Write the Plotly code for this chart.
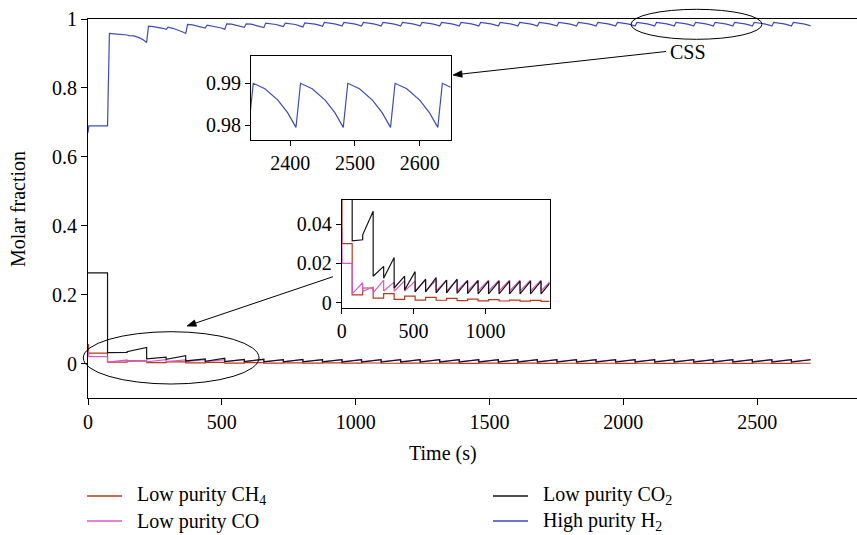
import math
import plotly.graph_objects as go

# ---------------- data ----------------
# switching times of the PSA steps (s)
step_t = [73, 146, 219, 292, 365, 438, 511, 584, 657, 730, 803, 876, 949, 1022,
          1095, 1168, 1241, 1314, 1387, 1460, 1533, 1606, 1679, 1752, 1825, 1898,
          1971, 2044, 2117, 2190, 2263, 2336, 2409, 2482, 2555, 2628]
t_end = 2700

# High purity H2 : start of run, then per step values
h2_init_t = [0, 3, 73]
h2_init_v = [0.67, 0.69, 0.69]
h2_peak = [0.958, 0.952, 0.979, 0.976, 0.984, 0.982, 0.986, 0.986, 0.988, 0.988, 0.989] + [0.990] * 25
h2_v25 = [0.957, 0.951, 0.978, 0.973, 0.983, 0.980, 0.985, 0.985, 0.987, 0.987, 0.988] + [0.9887] * 25
h2_v45 = [0.956, 0.946, 0.976, 0.968, 0.980, 0.977, 0.982, 0.981, 0.984, 0.984, 0.985] + [0.9860] * 25
h2_v60 = [0.955, 0.940, 0.973, 0.963, 0.977, 0.974, 0.979, 0.978, 0.981, 0.980, 0.982] + [0.9830] * 25
h2_end = [0.9535, 0.932, 0.970, 0.958, 0.974, 0.970, 0.976, 0.975, 0.978, 0.977, 0.979] + [0.9795] * 25

# Low purity CO2 : start of run, then per-step trough (after drop) and end values
co2_init_t = [0, 73]
co2_init_v = [0.263, 0.263]
co2_trough = [0.0315, 0.0345, 0.0135, 0.0125, 0.0075, 0.0065, 0.0055, 0.0055, 0.0050, 0.0050,
              0.0048, 0.0047] + [0.0045] * 24
co2_end = [0.0320, 0.0465, 0.0185, 0.0230, 0.0135, 0.0158, 0.0120, 0.0128, 0.0115, 0.0120,
           0.0112, 0.0113] + [0.0110] * 24

# Low purity CO
co_init_t = [0, 3, 73]
co_init_v = [0.038, 0.020, 0.020]
co_trough = [0.0045, 0.0058, 0.0050, 0.0060, 0.0058, 0.0060] + [0.0060] * 30
co_end = [0.0102, 0.0080, 0.0115, 0.0105, 0.0112, 0.0110] + [0.0115] * 30

# Low purity CH4 : step levels
ch4_init_t = [0, 2]
ch4_init_v = [0.055, 0.030]
ch4_level = [0.0040, 0.0075, 0.0024, 0.0047, 0.0017, 0.0034, 0.0014, 0.0027, 0.0013, 0.0022,
             0.0011, 0.0019, 0.0010, 0.0016, 0.0009, 0.0014, 0.0008, 0.0012, 0.0007, 0.0011,
             0.0006, 0.0010, 0.0006, 0.0009, 0.0005, 0.0009, 0.0005, 0.0008, 0.0005, 0.0008,
             0.0005, 0.0008, 0.0005, 0.0008, 0.0005, 0.0008]

series_names = ["Low purity CH<sub>4</sub>", "Low purity CO",
                "Low purity CO<sub>2</sub>", "High purity H<sub>2</sub>"]
x_ticks = [0, 500, 1000, 1500, 2000, 2500]
y_ticks = [0, 0.2, 0.4, 0.6, 0.8, 1]
y_tick_text = ["0", "0.2", "0.4", "0.6", "0.8", "1"]
in1_xticks = [2400, 2500, 2600]
in1_yticks = [0.98, 0.99]
in2_xticks = [0, 500, 1000]
in2_yticks = [0, 0.02, 0.04]
in2_ytext = ["0", "0.02", "0.04"]

# ---------------- build polylines ----------------
def step_end(k):
    return step_t[k + 1] if k + 1 < len(step_t) else t_end

h2_x, h2_y = list(h2_init_t), list(h2_init_v)
for k, T in enumerate(step_t):
    h2_x += [T + 7, T + 25, T + 45, T + 60, step_end(k)]
    h2_y += [h2_peak[k], h2_v25[k], h2_v45[k], h2_v60[k], h2_end[k]]

def saw(init_t, init_v, trough, end):
    xs, ys = list(init_t), list(init_v)
    for k, T in enumerate(step_t):
        xs += [T, step_end(k)]
        ys += [trough[k], end[k]]
    return xs, ys

co2_x, co2_y = saw(co2_init_t, co2_init_v, co2_trough, co2_end)
co_x, co_y = saw(co_init_t, co_init_v, co_trough, co_end)
ch4_x = list(ch4_init_t) + step_t + [t_end]
ch4_y = list(ch4_init_v) + ch4_level + [ch4_level[-1]]

# ---------------- style ----------------
C_CH4 = "#B5391E"
C_CO = "#D85AC8"
C_CO2 = "#141414"
C_H2 = "#3D4DB5"
FONT = "Liberation Serif"
W, H = 857, 535
ML, MR, MT, MB = 88, 0, 19, 137
PW, PH = W - ML - MR, H - MT - MB


def px_x(p):
    return (p - ML) / PW


def px_y(p):
    return (H - MB - p) / PH


fig = go.Figure()
lw = 1.2
series = [
    (series_names[0], ch4_x, ch4_y, C_CH4, "hv"),
    (series_names[1], co_x, co_y, C_CO, "linear"),
    (series_names[2], co2_x, co2_y, C_CO2, "linear"),
    (series_names[3], h2_x, h2_y, C_H2, "linear"),
]
for name, xs, ys, col, shp in series:
    fig.add_trace(go.Scatter(x=xs, y=ys, mode="lines", name=name, showlegend=False,
                             line=dict(color=col, width=lw, shape=shp)))
# inset 1 : H2 at CSS
fig.add_trace(go.Scatter(x=h2_x, y=h2_y, mode="lines", showlegend=False, name=series_names[3],
                         line=dict(color=C_H2, width=lw), xaxis="x2", yaxis="y2"))
# inset 2 : impurities
for name, xs, ys, col, shp in series[:3]:
    fig.add_trace(go.Scatter(x=xs, y=ys, mode="lines", showlegend=False, name=name,
                             line=dict(color=col, width=lw, shape=shp), xaxis="x3", yaxis="y3"))

axis_common = dict(showgrid=False, zeroline=False, showline=True, linecolor="black",
                   linewidth=1, ticks="outside", tickcolor="black", tickwidth=1,
                   tickfont=dict(family=FONT, size=20, color="black"))

fig.update_layout(
    width=W, height=H, margin=dict(l=ML, r=MR, t=MT, b=MB, autoexpand=False),
    paper_bgcolor="white", plot_bgcolor="white",
    font=dict(family=FONT, size=20, color="black"),
    showlegend=False,
    xaxis=dict(range=[0, 2873], tickvals=x_ticks, ticklen=6, mirror=True, **axis_common),
    yaxis=dict(range=[-0.1, 1.0], tickvals=y_ticks, ticktext=y_tick_text, ticklen=6, **axis_common),
    xaxis2=dict(domain=[px_x(251), px_x(450.5)], anchor="y2", range=[2339.5, 2647.6],
                tickvals=in1_xticks, ticklen=5, mirror=True, **axis_common),
    yaxis2=dict(domain=[px_y(140), px_y(56)], anchor="x2", range=[0.9765, 0.9965],
                tickvals=in1_yticks, ticklen=5, mirror=True, **axis_common),
    xaxis3=dict(domain=[px_x(341.7), px_x(549.5)], anchor="y3", range=[0, 1446],
                tickvals=in2_xticks, ticklen=5, mirror=True, **axis_common),
    yaxis3=dict(domain=[px_y(308.3), px_y(200)], anchor="x3", range=[-0.0028, 0.0522],
                tickvals=in2_yticks, ticktext=in2_ytext, ticklen=5, mirror=True,
                **axis_common),
)

# ellipses
fig.add_shape(type="circle", xref="paper", yref="paper",
              x0=px_x(631), x1=px_x(762), y0=px_y(39.3), y1=px_y(9.3),
              line=dict(color="black", width=1))
fig.add_shape(type="circle", xref="paper", yref="paper",
              x0=px_x(83.3), x1=px_x(259), y0=px_y(384), y1=px_y(331.7),
              line=dict(color="black", width=1))


def arrow(tail, tip, head_len=9.0, head_half=3.2):
    dx, dy = tip[0] - tail[0], tip[1] - tail[1]
    L = math.hypot(dx, dy)
    ux, uy = dx / L, dy / L
    bx, by = tip[0] - head_len * ux, tip[1] - head_len * uy
    nx, ny = -uy, ux
    fig.add_shape(type="line", xref="paper", yref="paper",
                  x0=px_x(tail[0]), y0=px_y(tail[1]), x1=px_x(bx), y1=px_y(by),
                  line=dict(color="black", width=1))
    pts = [tip, (bx + head_half * nx, by + head_half * ny), (bx - head_half * nx, by - head_half * ny)]
    path = "M " + " L ".join(f"{px_x(p[0]):.5f},{px_y(p[1]):.5f}" for p in pts) + " Z"
    fig.add_shape(type="path", xref="paper", yref="paper", path=path,
                  fillcolor="black", line=dict(color="black", width=0.8))


arrow((666, 51.5), (453, 75))
arrow((333, 276.7), (187, 326))

fig.add_annotation(xref="paper", yref="paper", x=px_x(688), y=px_y(52), text="CSS",
                   showarrow=False, xanchor="center", yanchor="middle",
                   font=dict(family=FONT, size=20, color="black"))
# axis titles
fig.add_annotation(xref="paper", yref="paper", x=px_x(443), y=px_y(453), text="Time (s)",
                   showarrow=False, xanchor="center", yanchor="middle",
                   font=dict(family=FONT, size=20, color="black"))
fig.add_annotation(xref="paper", yref="paper", x=px_x(18), y=px_y(209), text="Molar fraction",
                   showarrow=False, textangle=-90, xanchor="center", yanchor="middle",
                   font=dict(family=FONT, size=20, color="black"))

# legend (two columns, drawn below the axes)
legend_items = [(0, C_CH4, 87, 496), (2, C_CO2, 493, 496), (1, C_CO, 87, 521), (3, C_H2, 493, 521)]
for idx, col, lx, ly in legend_items:
    fig.add_shape(type="line", xref="paper", yref="paper",
                  x0=px_x(lx), x1=px_x(lx + 35), y0=px_y(ly), y1=px_y(ly),
                  line=dict(color=col, width=1.3))
    fig.add_annotation(xref="paper", yref="paper", x=px_x(lx + 48), y=px_y(ly),
                       text=series_names[idx], showarrow=False, xanchor="left",
                       yanchor="middle", font=dict(family=FONT, size=20, color="black"))

fig.write_html("out.html")
